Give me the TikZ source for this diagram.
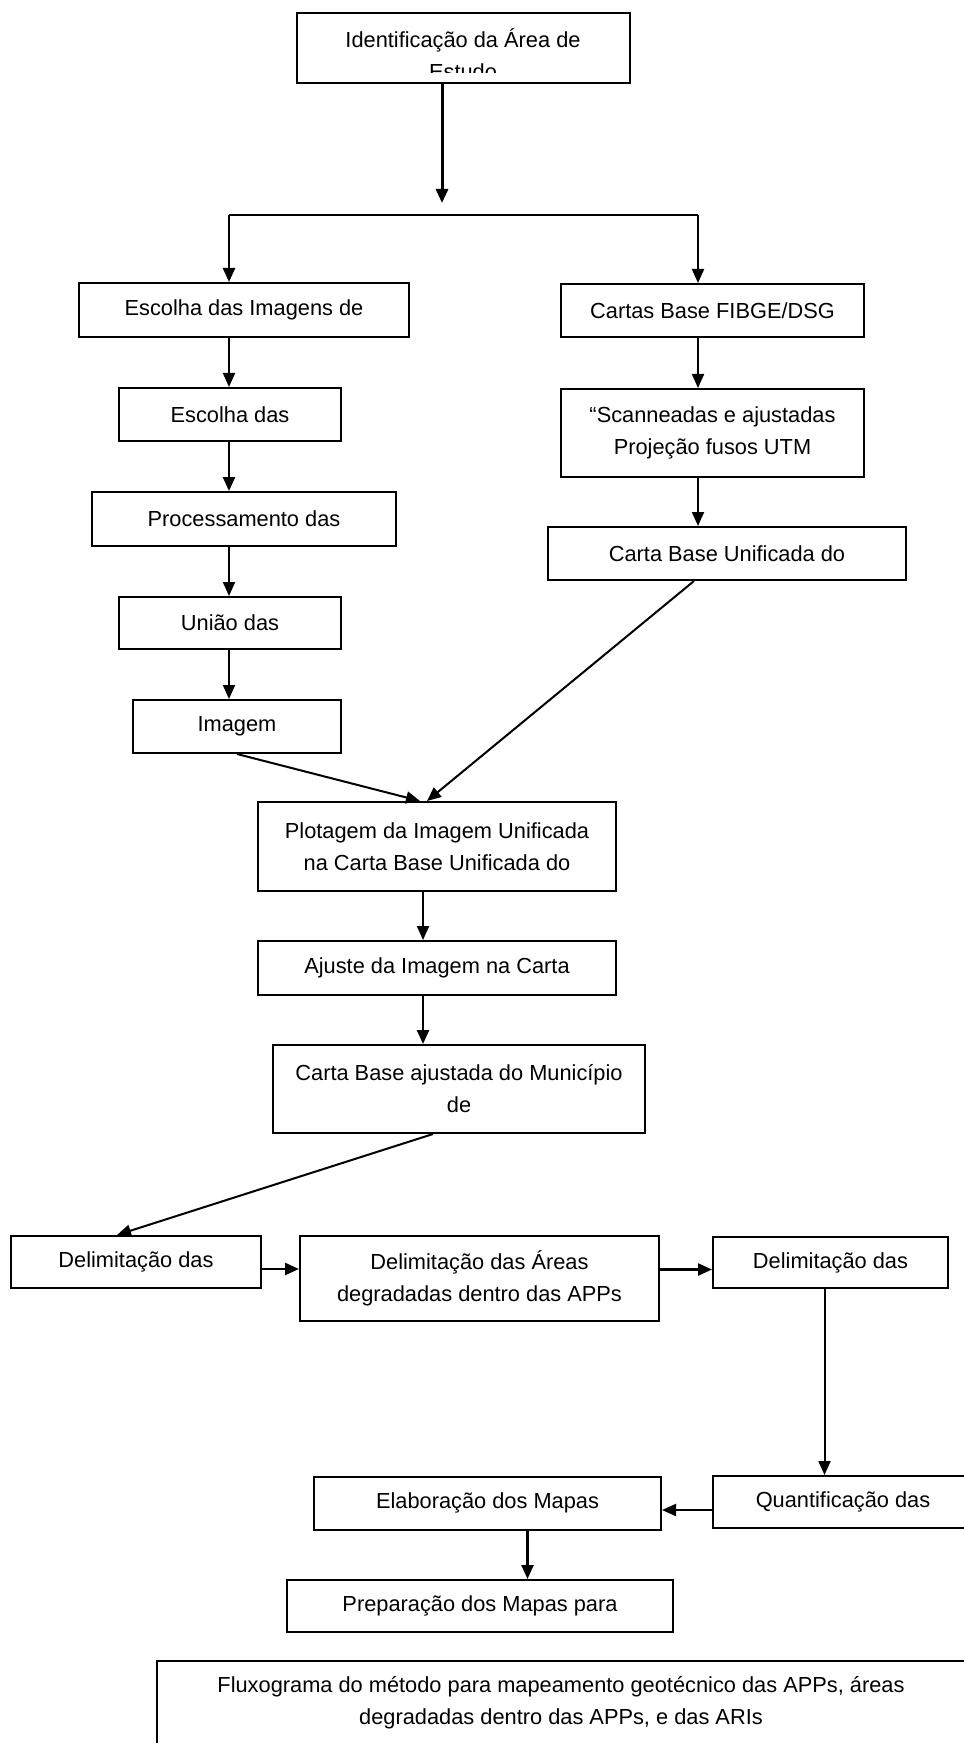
\documentclass[tikz,border=0pt]{standalone}
\usepackage{fontspec}
\setmainfont{Liberation Sans}
\usetikzlibrary{positioning,arrows.meta}

\begin{document}
\begin{tikzpicture}[
		x=0.5pt, y=-0.5pt,
		font=\fontsize{10.9}{16}\selectfont,
		box/.style 2 args={draw,line width=1pt,align=center,inner sep=0pt,minimum width=#1*0.5pt,minimum height=#2*0.5pt},
		edge/.style={-{Triangle[length=7pt,width=6pt]},line width=1pt}
		]
		\useasboundingbox (0,0) rectangle (963,1743);
		
		% caixa do topo, com a segunda linha cortada
		\node[box={333}{70}] (ident) at (463.5,48) {};
		\begin{scope}
			\clip (297,13) rectangle (630,73);
			\node[align=center] (identtxt) at (463,54) {Identificação da Área de\\Estudo};
		\end{scope}
		
		\node[box={330}{54}] (escimg) at (244,310) {Escolha das Imagens de};
		\node[box={303}{53}] (cartas) at (712.5,310.5) {Cartas Base FIBGE/DSG};
		\node[box={222}{53}] (escdas) at (230,414.5) {Escolha das};
		\node[box={303}{88}] (scann) at (712.5,433) {“Scanneadas e ajustadas\\Projeção fusos UTM};
		\node[box={304}{54}] (proc) at (244,519) {Processamento das};
		\node[box={358}{53}] (cbu) at (727,553.5) {Carta Base Unificada do};
		\node[box={222}{52}] (uniao) at (230,623) {União das};
		\node[box={208}{53}] (imagem) at (237,726.5) {Imagem};
		\node[box={358}{89}] (plot) at (437,846.5) {Plotagem da Imagem Unificada\\na Carta Base Unificada do};
		\node[box={358}{54}] (ajuste) at (437,968) {Ajuste da Imagem na Carta};
		\node[box={372}{88}] (cbaj) at (459,1089) {Carta Base ajustada do Município\\de};
		\node[box={250}{52}] (delim1) at (136,1262) {Delimitação das};
		\node[box={359}{85}] (delim2) at (479.5,1278.5) {Delimitação das Áreas\\degradadas dentro das APPs};
		\node[box={235}{51}] (delim3) at (830.5,1262.5) {Delimitação das};
		\node[box={260}{52}] (quant) at (843,1502) {Quantificação das};
		\node[box={347}{53}] (elab) at (487.5,1503) {Elaboração dos Mapas};
		\node[box={386}{52}] (prep) at (480,1606) {Preparação dos Mapas para};
		
		% legenda
		\node[box={809}{111}] (legenda) at (561.5,1716.5) {};
		\node[align=center] (legtxt) at (561,1703) {Fluxograma do método para mapeamento geotécnico das APPs, áreas\\degradadas dentro das APPs, e das ARIs};
		
		% ligacoes
		\coordinate (jn) at (442,203);
		\coordinate (lft) at (229,215);
		\coordinate (rgt) at (698,215);
		\draw[edge,line width=1.5pt] (ident.south -| jn) -- (jn);
		\draw[line width=1.2pt] (lft) -- (rgt);
		\draw[edge,line width=1.2pt] (lft) -- (lft |- escimg.north);
		\draw[edge] (rgt) -- (rgt |- cartas.north);
		
		\draw[edge] (escimg.south -| lft) -- (escdas.north -| lft);
		\draw[edge,line width=1.2pt] (escdas.south -| lft) -- (proc.north -| lft);
		\draw[edge] (proc.south -| lft) -- (uniao.north -| lft);
		\draw[edge] (uniao.south -| lft) -- (imagem.north -| lft);
		
		\draw[edge] (cartas.south -| rgt) -- (scann.north -| rgt);
		\draw[edge] (scann.south -| rgt) -- (cbu.north -| rgt);
		
		\draw[edge] (imagem.south) -- ([xshift=-8.5pt]plot.north);
		\draw[edge] ([xshift=-16.5pt]cbu.south) -- ([xshift=-5pt]plot.north);
		\draw[edge] ([xshift=-7pt]plot.south) -- ([xshift=-7pt]ajuste.north);
		\draw[edge,line width=1.2pt] ([xshift=-7pt]ajuste.south) -- ([xshift=-7pt]ajuste.south |- cbaj.north);
		\draw[edge] ([xshift=-13pt]cbaj.south) -- ([xshift=-9.5pt]delim1.north);
		
		\draw[edge,line width=1.2pt] ([yshift=-3.5pt]delim1.east) -- ([yshift=-3.5pt]delim1.east -| delim2.west);
		\draw[edge,line width=1.2pt] ([yshift=-3.5pt]delim2.east |- delim3.west) -- ([yshift=-3.5pt]delim3.west);
		\draw[edge] ([xshift=-3pt]delim3.south) -- ([xshift=-3pt]delim3.south |- quant.north);
		\draw[edge] ([yshift=-4pt]quant.west) -- ([yshift=-4pt]quant.west -| elab.east);
		\draw[edge,line width=1.2pt] ([xshift=20pt]elab.south) -- ([xshift=20pt]elab.south |- prep.north);
	\end{tikzpicture}
\end{document}
